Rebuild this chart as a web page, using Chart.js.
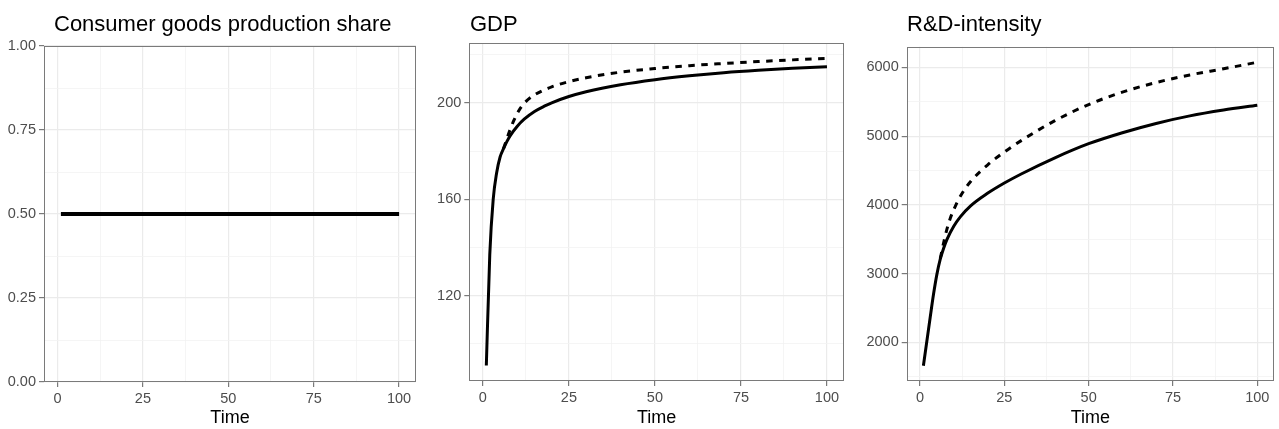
<!DOCTYPE html>
<html>
<head>
<meta charset="utf-8">
<script src="https://cdn.jsdelivr.net/npm/chart.js@4.4.0/dist/chart.umd.min.js"></script>
<style>
    body { margin: 0; background: #fff; width: 1279px; height: 429px; position: relative; overflow: hidden;
           font-family: "Liberation Sans", Arial, sans-serif; }
    .panel { position: absolute; top: 0; height: 429px; }
    .panel canvas { position: absolute; left: 0; top: 0; }
    .title { position: absolute; top: 13px; font-size: 22px; line-height: 22px; color: #000; white-space: nowrap; }
</style>
</head>
<body>
<div class="panel" style="left:0;width:425px"><canvas id="shareChart" width="425" height="429"></canvas></div>
<div class="panel" style="left:425px;width:425px"><canvas id="gdpChart" width="425" height="429"></canvas></div>
<div class="panel" style="left:850px;width:429px"><canvas id="rdChart" width="429" height="429"></canvas></div>
<div class="title" style="left:54px">Consumer goods production share</div>
<div class="title" style="left:470px">GDP</div>
<div class="title" style="left:907px">R&amp;D-intensity</div>

<script>
// ==================== DATA ====================

const xMajorTicks = [0, 25, 50, 75, 100];
const xMinorTicks = [12.5, 37.5, 62.5, 87.5];

// Consumer goods production share
const shareTime = [1, 100];
const shareValues = [0.5, 0.5];
const shareMajorTicks = [0, 0.25, 0.5, 0.75, 1];
const shareMinorTicks = [0.125, 0.375, 0.625, 0.875];

// GDP
const gdpTime = [1, 2, 3, 4, 5, 6, 7, 8, 10, 12, 15, 18, 20, 25, 30, 40, 50, 60, 70, 80, 90, 100];
const gdpBase = [91, 137, 160, 171, 177.5, 181, 184, 186.5, 190.3, 193.2, 196.4, 198.7, 200, 202.6, 204.6, 207.5, 209.6, 211.2, 212.5, 213.5, 214.3, 214.9];
const gdpAltTime = [6, 7, 8, 9, 10, 11, 12, 13, 15, 20, 25, 30, 40, 50, 60, 70, 80, 90, 100];
const gdpAlt = [181, 185.2, 189.2, 192.7, 195.6, 198, 199.8, 201.2, 203.3, 206.6, 208.8, 210.4, 212.7, 214.2, 215.4, 216.3, 217.1, 217.8, 218.4];
const gdpMajorTicks = [120, 160, 200];
const gdpMinorTicks = [100, 140, 180, 220];

// R&D-intensity
const rdTime = [1, 2, 3, 4, 5, 6, 7, 8, 10, 12, 15, 20, 25, 30, 40, 50, 60, 70, 80, 90, 100];
const rdBase = [1660, 2010, 2360, 2700, 2990, 3210, 3370, 3500, 3690, 3830, 3986, 4168, 4318, 4450, 4685, 4890, 5050, 5185, 5295, 5380, 5450];
const rdAltTime = [6, 7, 8, 9, 10, 12, 15, 20, 25, 30, 40, 50, 60, 70, 80, 90, 100];
const rdAlt = [3220, 3450, 3650, 3810, 3930, 4130, 4340, 4580, 4770, 4935, 5225, 5460, 5640, 5780, 5890, 5980, 6075];
const rdMajorTicks = [2000, 3000, 4000, 5000, 6000];
const rdMinorTicks = [1500, 2500, 3500, 4500, 5500];

// ==================== STYLE ====================

const TICK_FONT = { family: '"Liberation Sans", Arial, sans-serif', size: 14.5 };
const TICK_COLOR = '#4d4d4d';
const BORDER_COLOR = '#7a7a7a';
const MAJOR_GRID = '#ebebeb';
const MINOR_GRID = '#f3f3f3';

// ==================== HELPERS ====================

function toPoints(xs, ys) {
    return xs.map((x, i) => ({ x: x, y: ys[i] }));
}

function lineDataset(xs, ys, width, dashed) {
    return {
        data: toPoints(xs, ys),
        borderColor: '#000',
        borderWidth: width,
        borderDash: dashed ? [6.5, 6.5] : [],
        borderCapStyle: 'butt',
        pointRadius: 0,
        fill: false,
        cubicInterpolationMode: 'monotone'
    };
}

const panelBorder = {
    id: 'panelBorder',
    afterDraw(chart) {
        const { ctx, chartArea: a } = chart;
        ctx.save();
        ctx.strokeStyle = BORDER_COLOR;
        ctx.lineWidth = 1;
        ctx.strokeRect(Math.round(a.left) + 0.5, Math.round(a.top) + 0.5,
                       Math.round(a.right - a.left) - 1, Math.round(a.bottom - a.top) - 1);
        ctx.restore();
    }
};

function axisConfig(major, minor, min, max, fmt, fitSize, isX) {
    const all = major.concat(minor).sort((a, b) => a - b);
    const isMajor = v => major.some(m => Math.abs(m - v) < 1e-9);
    const cfg = {
        type: 'linear',
        min: min,
        max: max,
        afterBuildTicks: axis => { axis.ticks = all.map(v => ({ value: v })); },
        afterFit: scale => {
            if (isX) scale.height = fitSize;
            else scale.width = fitSize;
        },
        border: { display: false },
        grid: {
            color: ctx => isMajor(ctx.tick.value) ? MAJOR_GRID : MINOR_GRID,
            lineWidth: ctx => isMajor(ctx.tick.value) ? 1.2 : 0.8,
            tickColor: ctx => isMajor(ctx.tick.value) ? BORDER_COLOR : 'rgba(0,0,0,0)',
            tickLength: 5,
            drawTicks: true
        },
        ticks: {
            autoSkip: false,
            maxRotation: 0,
            padding: 3,
            color: TICK_COLOR,
            font: TICK_FONT,
            callback: v => isMajor(v) ? fmt(v) : ''
        }
    };
    if (isX) {
        cfg.title = {
            display: true,
            text: 'Time',
            color: '#000',
            font: { family: '"Liberation Sans", Arial, sans-serif', size: 18, lineHeight: 1.2 },
            padding: { top: 0, bottom: 0 }
        };
    }
    return cfg;
}

function makePanel(canvasId, datasets, yAxis, layout) {
    const ctx = document.getElementById(canvasId);
    return new Chart(ctx, {
        type: 'line',
        data: { datasets: datasets },
        options: {
            responsive: false,
            animation: false,
            devicePixelRatio: 1,
            layout: { padding: { top: layout.top, right: layout.right, bottom: 0, left: 0 } },
            plugins: { legend: { display: false }, tooltip: { enabled: false } },
            scales: {
                x: axisConfig(xMajorTicks, xMinorTicks, -3.95, 104.95, v => String(v), layout.xHeight, true),
                y: yAxis
            }
        },
        plugins: [panelBorder]
    });
}

// ==================== CHARTS ====================

makePanel('shareChart',
    [lineDataset(shareTime, shareValues, 4, false)],
    axisConfig(shareMajorTicks, shareMinorTicks, 0, 1, v => v.toFixed(2), 44, false),
    { top: 46, right: 9, xHeight: 47 });

makePanel('gdpChart',
    [lineDataset(gdpTime, gdpBase, 3, false), lineDataset(gdpAltTime, gdpAlt, 3, true)],
    axisConfig(gdpMajorTicks, gdpMinorTicks, 84.6, 224.8, v => String(v), 44.3, false),
    { top: 43, right: 6, xHeight: 48 });

makePanel('rdChart',
    [lineDataset(rdTime, rdBase, 3, false), lineDataset(rdAltTime, rdAlt, 3, true)],
    axisConfig(rdMajorTicks, rdMinorTicks, 1439, 6301, v => String(v), 56.7, false),
    { top: 46.7, right: 5, xHeight: 48 });
</script>
</body>
</html>
